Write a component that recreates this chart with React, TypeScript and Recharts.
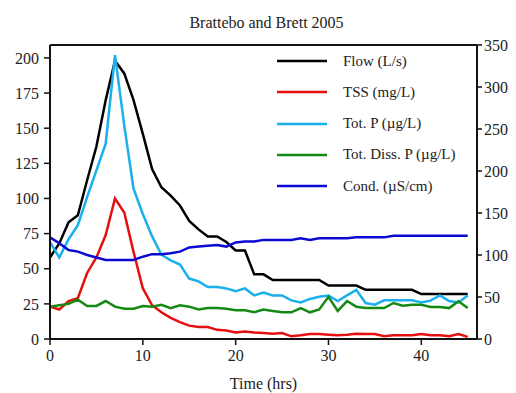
import { LineChart, Line, XAxis, YAxis, Legend, ReferenceLine, Label } from 'recharts';

const FONT = '"Liberation Serif", "Times New Roman", serif';

// sampling times (hrs)
const hours = [
  0, 1, 2, 3, 4, 5, 6, 7, 8, 9, 10, 11, 12, 13, 14, 15, 16, 17, 18, 19, 20, 21, 22,
  23, 24, 25, 26, 27, 28, 29, 30, 31, 32, 33, 34, 35, 36, 37, 38, 39, 40, 41, 42, 43, 44, 45,
];

// left axis series
const flow = [
  58, 68, 83, 88, 113, 137, 170, 198, 189, 170, 146, 121, 108, 102, 95, 84, 78, 73, 73, 69, 63, 63, 46,
  46, 42, 42, 42, 42, 42, 42, 38, 38, 38, 38, 35, 35, 35, 35, 35, 35, 32, 32, 32, 32, 32, 32,
];
const tss = [
  23, 21, 27, 29, 47, 58, 74, 100, 90, 62, 36, 24, 19, 15, 12, 9.5, 8.5, 8.5, 6.5, 6, 4.7, 5.4, 4.7,
  4.2, 3.8, 4.2, 1.9, 2.6, 3.6, 3.6, 3.1, 2.6, 3.1, 3.8, 3.6, 3.6, 1.9, 2.6, 2.6, 2.6, 3.6, 2.6, 2.6, 1.9, 3.6, 1.5,
];
const totP = [
  69, 58, 71, 81, 101, 120, 139, 202, 152, 107, 89, 73, 60, 56, 53, 43, 41, 37, 37, 36, 34, 36, 31,
  33, 31, 31, 27.5, 26, 28.5, 30, 31, 27, 31, 35, 25.6, 24.4, 27.5, 27.5, 27.5, 27.5, 26, 27.3, 31, 27, 26, 31,
];
const totDissP = [
  23, 24, 25, 28, 23.5, 23.5, 27, 23, 21.5, 21.5, 23.5, 23, 24.4, 22, 24, 23, 21, 22, 22, 21.5, 20.4, 20.4, 19,
  21, 20, 19, 19, 22, 19, 21, 30, 20, 27, 23, 22, 22, 22, 25.6, 23.7, 24.4, 24.4, 22.8, 22.8, 22, 26.8, 22,
];
// right axis series
const cond = [
  121, 114, 106, 104, 100, 97, 94, 94, 94, 94, 98, 101, 101, 102, 104, 109, 110, 111, 112, 110, 115, 116, 116,
  118, 118, 118, 118, 120, 118, 120, 120, 120, 120, 121, 121, 121, 121, 123, 123, 123, 123, 123, 123, 123, 123, 123,
];

const seriesNames = ['Flow (L/s)', 'TSS (mg/L)', 'Tot. P (µg/L)', 'Tot. Diss. P (µg/L)', 'Cond. (µS/cm)'];
const xTicks = [0, 10, 20, 30, 40];
const leftTicks = [0, 25, 50, 75, 100, 125, 150, 175, 200];
const rightTicks = [0, 50, 100, 150, 200, 250, 300, 350];
const LEFT_MAX = 209.2;

const data = hours.map((h, i) => ({
  h,
  flow: flow[i],
  tss: tss[i],
  totP: totP[i],
  totDissP: totDissP[i],
  cond: cond[i],
}));

const tickStyle = { fill: '#222', fontSize: 16, fontFamily: FONT };
const axisLine = { stroke: '#111', strokeWidth: 2 };
const tickLine = { stroke: '#111', strokeWidth: 1.5 };

const renderLegend = (props: any) => {
  const items = [...(props.payload || [])].sort(
    (a: any, b: any) => seriesNames.indexOf(a.value) - seriesNames.indexOf(b.value)
  );
  return (
    <div style={{ fontFamily: FONT, fontSize: 15, color: '#222' }}>
      {items.map((e: any) => (
        <div key={e.value} style={{ display: 'flex', alignItems: 'center', height: 31.25 }}>
          <svg width={50} height={4}>
            <line x1={0} x2={50} y1={2} y2={2} stroke={e.color} strokeWidth={2.5} />
          </svg>
          <span style={{ marginLeft: 16, whiteSpace: 'nowrap' }}>{e.value}</span>
        </div>
      ))}
    </div>
  );
};

export default function App() {
  return (
    <div style={{ position: 'absolute', left: 0, top: 0, width: 516, height: 393, background: '#fff', fontFamily: FONT }}>
      <style>{`.recharts-wrapper text { font-family: ${FONT}; }`}</style>
      <div style={{ position: 'absolute', top: 14, left: 0, width: 533, textAlign: 'center', fontSize: 16, color: '#222' }}>
        Brattebo and Brett 2005
      </div>
      <LineChart width={516} height={393} data={data} margin={{ top: 45, right: 0, bottom: 0, left: 0 }}>
        <XAxis
          dataKey="h"
          type="number"
          domain={[0, 46]}
          ticks={xTicks}
          height={54}
          tickSize={6}
          tickMargin={5}
          axisLine={axisLine}
          tickLine={tickLine}
          tick={tickStyle}
        >
          <Label value="Time (hrs)" position="insideBottom" offset={4} fill="#222" fontSize={16} fontFamily={FONT} />
        </XAxis>
        <YAxis
          yAxisId="left"
          domain={[0, LEFT_MAX]}
          ticks={leftTicks}
          width={50}
          tickSize={6}
          tickMargin={5}
          axisLine={axisLine}
          tickLine={tickLine}
          tick={tickStyle}
          allowDataOverflow
        />
        <YAxis
          yAxisId="right"
          orientation="right"
          domain={[0, 350]}
          ticks={rightTicks}
          width={39}
          tickSize={5}
          tickMargin={2}
          axisLine={axisLine}
          tickLine={tickLine}
          tick={tickStyle}
        />
        <ReferenceLine yAxisId="left" y={LEFT_MAX} stroke="#111" strokeWidth={2} />
        <Legend
          layout="vertical"
          align="center"
          verticalAlign="middle"
          content={renderLegend}
          wrapperStyle={{ top: 45.5, left: 277, width: 'auto' }}
        />
        <Line yAxisId="left" dataKey="flow" name={seriesNames[0]} stroke="#000000" strokeWidth={2.5} dot={false} isAnimationActive={false} />
        <Line yAxisId="left" dataKey="tss" name={seriesNames[1]} stroke="#e60f0f" strokeWidth={2.5} dot={false} isAnimationActive={false} />
        <Line yAxisId="left" dataKey="totP" name={seriesNames[2]} stroke="#1ab0ec" strokeWidth={2.5} dot={false} isAnimationActive={false} />
        <Line yAxisId="left" dataKey="totDissP" name={seriesNames[3]} stroke="#148a14" strokeWidth={2.5} dot={false} isAnimationActive={false} />
        <Line yAxisId="right" dataKey="cond" name={seriesNames[4]} stroke="#0a0ad2" strokeWidth={2.5} dot={false} isAnimationActive={false} />
      </LineChart>
    </div>
  );
}
